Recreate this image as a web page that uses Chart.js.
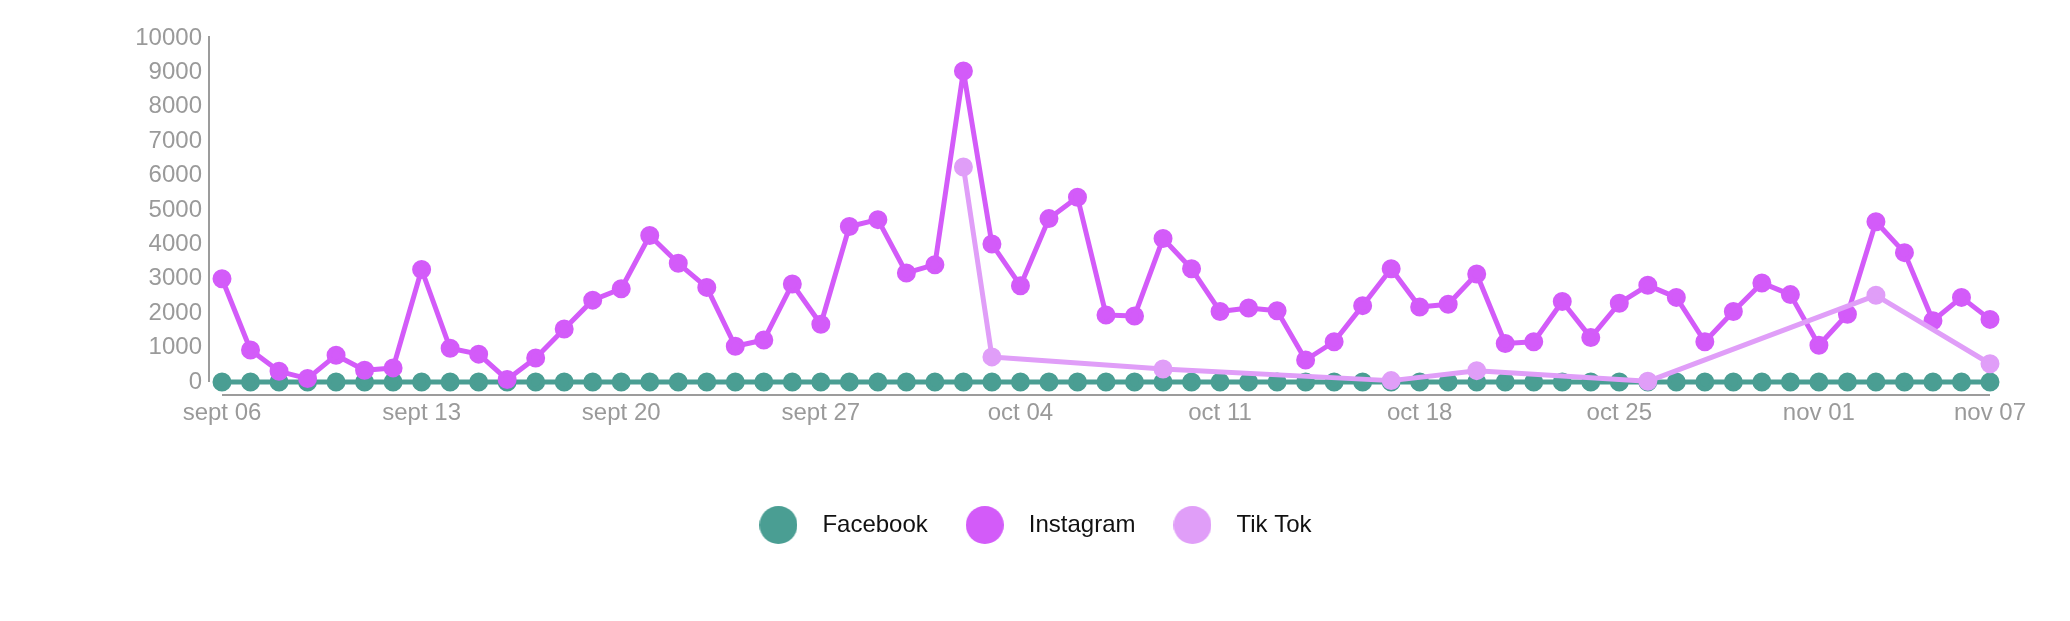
<!DOCTYPE html>
<html>
<head>
<meta charset="utf-8">
<script src="https://cdn.jsdelivr.net/npm/chart.js@4"></script>
<style>
  html, body { margin: 0; padding: 0; background: #fff; }
  #wrap { width: 2070px; height: 621px; position: relative; }
</style>
</head>
<body>
<div id="wrap"><canvas id="socialChart"></canvas></div>
<script>
// days shown on the x axis
const days = [
    'sept 06', 'sept 07', 'sept 08', 'sept 09', 'sept 10', 'sept 11', 'sept 12',
    'sept 13', 'sept 14', 'sept 15', 'sept 16', 'sept 17', 'sept 18', 'sept 19',
    'sept 20', 'sept 21', 'sept 22', 'sept 23', 'sept 24', 'sept 25', 'sept 26',
    'sept 27', 'sept 28', 'sept 29', 'sept 30', 'oct 01', 'oct 02', 'oct 03',
    'oct 04', 'oct 05', 'oct 06', 'oct 07', 'oct 08', 'oct 09', 'oct 10',
    'oct 11', 'oct 12', 'oct 13', 'oct 14', 'oct 15', 'oct 16', 'oct 17',
    'oct 18', 'oct 19', 'oct 20', 'oct 21', 'oct 22', 'oct 23', 'oct 24',
    'oct 25', 'oct 26', 'oct 27', 'oct 28', 'oct 29', 'oct 30', 'oct 31',
    'nov 01', 'nov 02', 'nov 03', 'nov 04', 'nov 05', 'nov 06', 'nov 07'
];

const facebook = [
    0, 0, 0, 0, 0, 0, 0,
    0, 0, 0, 0, 0, 0, 0,
    0, 0, 0, 0, 0, 0, 0,
    0, 0, 0, 0, 0, 0, 0,
    0, 0, 0, 0, 0, 0, 0,
    0, 0, 0, 0, 0, 0, 0,
    0, 0, 0, 0, 0, 0, 0,
    0, 0, 0, 0, 0, 0, 0,
    0, 0, 0, 0, 0, 0, 0
];

const instagram = [
    3000, 930, 310, 100, 780, 340, 410,
    3270, 980, 810, 70, 700, 1540, 2380,
    2710, 4260, 3450, 2750, 1040, 1220, 2850,
    1680, 4520, 4720, 3170, 3410, 9040, 4010,
    2800, 4750, 5370, 1950, 1920, 4170, 3290,
    2050, 2150, 2070, 640, 1170, 2220, 3290,
    2180, 2260, 3140, 1120, 1170, 2340, 1290,
    2290, 2810, 2460, 1170, 2050, 2880, 2540,
    1070, 1970, 4660, 3760, 1780, 2460, 1820
];

// tiktok only has a few days, gaps are spanned
const tiktok = [
    null, null, null, null, null, null, null,
    null, null, null, null, null, null, null,
    null, null, null, null, null, null, null,
    null, null, null, null, null, 6250, 730,
    null, null, null, null, null, 380, null,
    null, null, null, null, null, null, 40,
    null, null, 330, null, null, null, null,
    null, 20, null, null, null, null, null,
    null, null, 2520, null, null, null, 530
];

const yTicks = [0, 1000, 2000, 3000, 4000, 5000, 6000, 7000, 8000, 9000, 10000];

const COLORS = {
    facebook: '#4a9e93',
    instagram: '#d35bf9',
    tiktok: '#e09ef8'
};

const AXIS_GAP = 13;

// filled circle used as legend marker
function legendDot(color) {
    const c = document.createElement('canvas');
    c.width = 38;
    c.height = 38;
    const g = c.getContext('2d');
    g.fillStyle = color;
    g.beginPath();
    g.arc(19, 19, 19, 0, Math.PI * 2);
    g.fill();
    return c;
}

// axis lines sit a bit away from the data, like the original
const axisLines = {
    id: 'axisLines',
    beforeDatasetsDraw(chart) {
        const { ctx, chartArea, scales } = chart;
        const x = scales.x, y = scales.y;
        ctx.save();
        ctx.strokeStyle = '#9c9c9c';
        ctx.lineWidth = 2;
        ctx.beginPath();
        ctx.moveTo(chartArea.left - AXIS_GAP, y.getPixelForValue(yTicks[yTicks.length - 1]) - 2);
        ctx.lineTo(chartArea.left - AXIS_GAP, y.getPixelForValue(0));
        ctx.moveTo(x.getPixelForValue(0), chartArea.bottom + AXIS_GAP);
        ctx.lineTo(x.getPixelForValue(days.length - 1), chartArea.bottom + AXIS_GAP);
        ctx.stroke();
        ctx.restore();
    }
};

function lineSet(label, data, color, order) {
    return {
        label: label,
        data: data,
        borderColor: color,
        backgroundColor: color,
        pointBackgroundColor: color,
        pointBorderColor: color,
        borderWidth: 5,
        borderJoinStyle: 'round',
        pointRadius: 7,
        pointHoverRadius: 7,
        tension: 0,
        spanGaps: true,
        clip: false,
        order: order
    };
}

Chart.defaults.font.family = "'Liberation Sans', Arial, sans-serif";
Chart.defaults.animation = false;

new Chart(document.getElementById('socialChart'), {
    type: 'line',
    data: {
        labels: days,
        datasets: [
            lineSet('Facebook', facebook, COLORS.facebook, 3),
            lineSet('Instagram', instagram, COLORS.instagram, 2),
            lineSet('Tik Tok', tiktok, COLORS.tiktok, 1)
        ]
    },
    options: {
        responsive: true,
        maintainAspectRatio: false,
        layout: {
            padding: { left: 68, right: 80, top: 38, bottom: 74 }
        },
        scales: {
            x: {
                grid: { display: false, drawTicks: false },
                border: { display: false },
                ticks: {
                    autoSkip: false,
                    maxRotation: 0,
                    padding: 17,
                    color: '#9a9a9a',
                    font: { size: 24 },
                    callback: (val, idx) => (idx % 7 === 0 || idx === days.length - 1 ? days[idx] : '')
                },
                afterFit(scale) {
                    scale.height = 106;
                }
            },
            y: {
                min: 0,
                max: 10000,
                grid: { display: false, drawTicks: false },
                border: { display: false },
                afterBuildTicks(scale) {
                    scale.ticks = yTicks.map(v => ({ value: v }));
                },
                afterFit(scale) {
                    scale.width = 154;
                },
                ticks: {
                    padding: 20,
                    color: '#9a9a9a',
                    font: { size: 24 },
                    callback: v => String(v)
                }
            }
        },
        plugins: {
            tooltip: { enabled: false },
            legend: {
                position: 'bottom',
                align: 'center',
                labels: {
                    usePointStyle: true,
                    pointStyleWidth: 64,
                    padding: 25,
                    color: '#111',
                    font: { size: 24 },
                    generateLabels(chart) {
                        return chart.data.datasets.map((ds, i) => ({
                            text: ds.label,
                            pointStyle: legendDot(ds.borderColor),
                            fillStyle: ds.borderColor,
                            strokeStyle: ds.borderColor,
                            lineWidth: 0,
                            hidden: false,
                            datasetIndex: i,
                            fontColor: '#111'
                        }));
                    }
                }
            }
        }
    },
    plugins: [axisLines]
});
</script>
</body>
</html>
